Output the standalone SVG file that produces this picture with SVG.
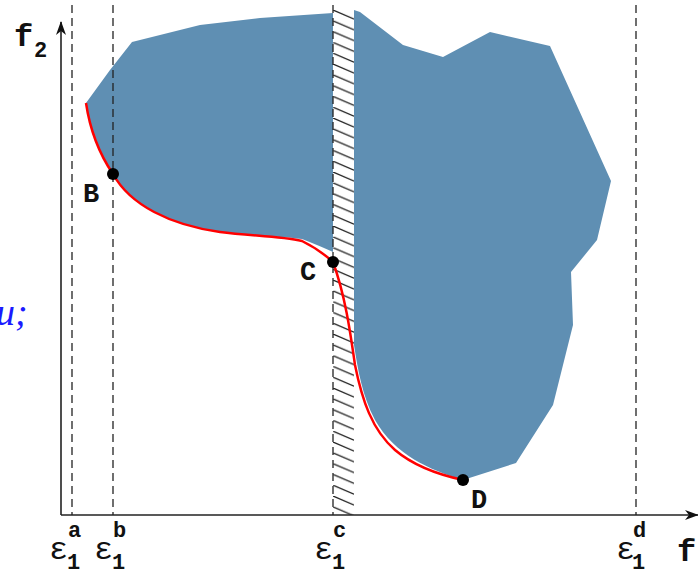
<svg xmlns="http://www.w3.org/2000/svg" width="698" height="573" viewBox="0 0 698 573">
<style>
.dash{stroke:#222;stroke-width:1.3;stroke-dasharray:8,5;fill:none}
.ax{stroke:#222;stroke-width:1.6;fill:none}
.blob{fill:#5f8fb3;stroke:none}
.lbl{font-family:"Liberation Mono",monospace;font-weight:bold;fill:#111}
.eps{font-family:"Liberation Mono",monospace;font-size:32px;fill:#111}
.sub{font-family:"Liberation Mono",monospace;font-weight:bold;font-size:22px;fill:#111}
.pt{fill:#000}
</style>
<defs>
<marker id="arr" markerWidth="14" markerHeight="10" refX="13" refY="5" orient="auto" markerUnits="userSpaceOnUse">
<path d="M0,0 L14,5 L0,10 L4,5 Z" fill="#111"/>
</marker>
<pattern id="hatch" patternUnits="userSpaceOnUse" x="333" y="10" width="21" height="10.8">
<line x1="0" y1="0" x2="21" y2="9" stroke="#222" stroke-width="1.3"/>
<line x1="0" y1="-10.8" x2="21" y2="-1.8" stroke="#222" stroke-width="1.3"/>
</pattern>
</defs>
<g id="region-left">
<path class="blob" d="M86,103 L110,70 L132,42 L200,25 L260,18 L333,13 L333,252 Q320,246 302,239 C280,236 250,236 220,232 C170,225 130,205 113,174 C100,155 90,130 86,103 Z"/>
</g>
<g id="region-right">
<path class="blob" d="M354,10 L360,12 L403,45 L443,57 L490,32 L550,46 L611,181 L597,240 L571,272 L573,325 L553,405 L516,463 L463,480 C430,470 395,455 375,420 C362,395 358,370 354,345 Z"/>
</g>
<g id="band">
<rect x="333" y="10" width="21" height="505" fill="#fff"/>
<rect x="333" y="10" width="21" height="505" fill="url(#hatch)"/>
</g>
<g id="connectors">
<line class="dash" x1="72" y1="5" x2="72" y2="515"/>
<line class="dash" x1="113" y1="5" x2="113" y2="515"/>
<line class="dash" x1="333" y1="5" x2="333" y2="515"/>
<line class="dash" x1="636" y1="5" x2="636" y2="515"/>
<line class="ax" x1="61" y1="515" x2="61" y2="22" marker-end="url(#arr)"/>
<line class="ax" x1="61" y1="515" x2="698" y2="515" marker-end="url(#arr)"/>
<path d="M86,103 C90,130 100,155 113,174 C130,205 170,225 220,232 C250,236 280,236 302,241 Q320,250 333,262 C345,295 350,330 355,365 C362,400 372,430 395,450 C415,467 440,475 463,480" fill="none" stroke="#ff0000" stroke-width="2.5"/>
</g>
<g id="B"><circle class="pt" cx="113" cy="174" r="6"/><text class="lbl" x="83" y="202" font-size="27">B</text></g>
<g id="C"><circle class="pt" cx="333" cy="262" r="6"/><text class="lbl" x="300" y="280" font-size="27">C</text></g>
<g id="D"><circle class="pt" cx="463" cy="480" r="6"/><text class="lbl" x="471" y="508" font-size="27">D</text></g>
<g id="f2"><text class="lbl" x="14" y="46" font-size="32">f</text><text class="sub" x="34" y="57">2</text></g>
<g id="f1"><text class="lbl" x="677" y="561" font-size="32">f</text></g>
<g id="eps-a"><text class="eps" x="49" y="559">ε</text><text class="sub" x="67" y="569">1</text><text class="sub" x="68" y="537">a</text></g>
<g id="eps-b"><text class="eps" x="94" y="559">ε</text><text class="sub" x="112" y="569">1</text><text class="sub" x="113" y="537">b</text></g>
<g id="eps-c"><text class="eps" x="314" y="559">ε</text><text class="sub" x="332" y="569">1</text><text class="sub" x="333" y="537">c</text></g>
<g id="eps-d"><text class="eps" x="616" y="559">ε</text><text class="sub" x="632" y="569">1</text><text class="sub" x="633" y="537">d</text></g>
<text x="-4" y="325" font-family="Liberation Serif,serif" font-style="italic" font-size="38" fill="#1a1aff">u;</text>
</svg>
